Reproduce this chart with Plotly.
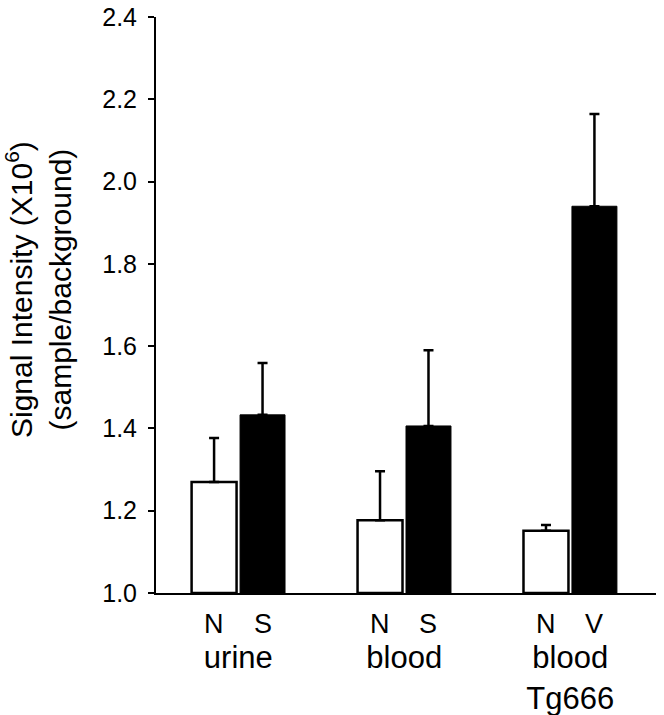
import plotly.graph_objects as go

groups = ["urine", "blood", "blood<br>Tg666"]
control_labels = ["N", "N", "N"]
treated_labels = ["S", "S", "V"]
control_vals = [1.27, 1.177, 1.151]
control_err = [0.107, 0.119, 0.014]
treated_vals = [1.433, 1.406, 1.94]
treated_err = [0.126, 0.184, 0.224]

FONT = "Liberation Sans, Arial, sans-serif"
idx = list(range(len(groups)))

fig = go.Figure()
fig.add_trace(go.Bar(
    x=idx, y=[v - 1.0 for v in control_vals], base=1.0,
    marker=dict(color="white", line=dict(color="black", width=2.5)),
    error_y=dict(type="data", symmetric=False, array=control_err,
                 arrayminus=[0] * len(control_err),
                 color="black", thickness=2.5, width=5),
    showlegend=False,
))
fig.add_trace(go.Bar(
    x=idx, y=[v - 1.0 for v in treated_vals], base=1.0,
    marker=dict(color="black", line=dict(color="black", width=1)),
    error_y=dict(type="data", symmetric=False, array=treated_err,
                 arrayminus=[0] * len(treated_err),
                 color="black", thickness=2.5, width=5),
    showlegend=False,
))

bargap = 0.416
bargroupgap = 0.072
off = (1 - bargap) / 4

W, H = 664, 715
ML, MR, MT, MB = 156, 8, 17, 122
plot_w = W - ML - MR
plot_h = H - MT - MB

annotations = []
for i in idx:
    for dx, lab in ((-off, control_labels[i]), (off, treated_labels[i])):
        annotations.append(dict(
            x=i + dx, y=1.0, xref="x", yref="y", text=lab, showarrow=False,
            yanchor="middle", yshift=-31, font=dict(family=FONT, size=27, color="black"),
        ))

title_cx, title_cy = 38, 290
annotations.append(dict(
    x=(title_cx - ML) / plot_w, y=(H - MB - title_cy) / plot_h, xref="paper", yref="paper",
    xanchor="center", yanchor="middle",
    text="Signal Intensity (X10<sup>6</sup>)<br>(sample/background)",
    showarrow=False, textangle=-90, font=dict(family=FONT, size=30, color="black"),
))

fig.update_layout(
    width=W, height=H,
    margin=dict(l=ML, r=MR, t=MT, b=MB),
    paper_bgcolor="white", plot_bgcolor="white",
    barmode="group", bargap=bargap, bargroupgap=bargroupgap,
    font=dict(family=FONT, color="black"),
    xaxis=dict(
        range=[-0.496, 2.517], tickmode="array", tickvals=idx, ticktext=groups,
        showline=True, linecolor="black", linewidth=2, ticks="", showgrid=False,
        zeroline=False, tickfont=dict(family=FONT, size=31, color="black"),
        ticklabelstandoff=36, automargin=False, ticklabeloverflow="allow",
    ),
    yaxis=dict(
        range=[1.0, 2.4], tickmode="linear", tick0=1.0, dtick=0.2, tickformat=".1f",
        showline=True, linecolor="black", linewidth=2, ticks="outside", ticklen=6,
        tickwidth=2, tickcolor="black", showgrid=False, zeroline=False,
        tickfont=dict(family=FONT, size=25, color="black"), ticklabelstandoff=6,
        automargin=False, ticklabeloverflow="allow",
    ),
    annotations=annotations,
)

fig.write_html("out.html", config={"displayModeBar": False},
               post_script="document.body.style.margin='0';")
